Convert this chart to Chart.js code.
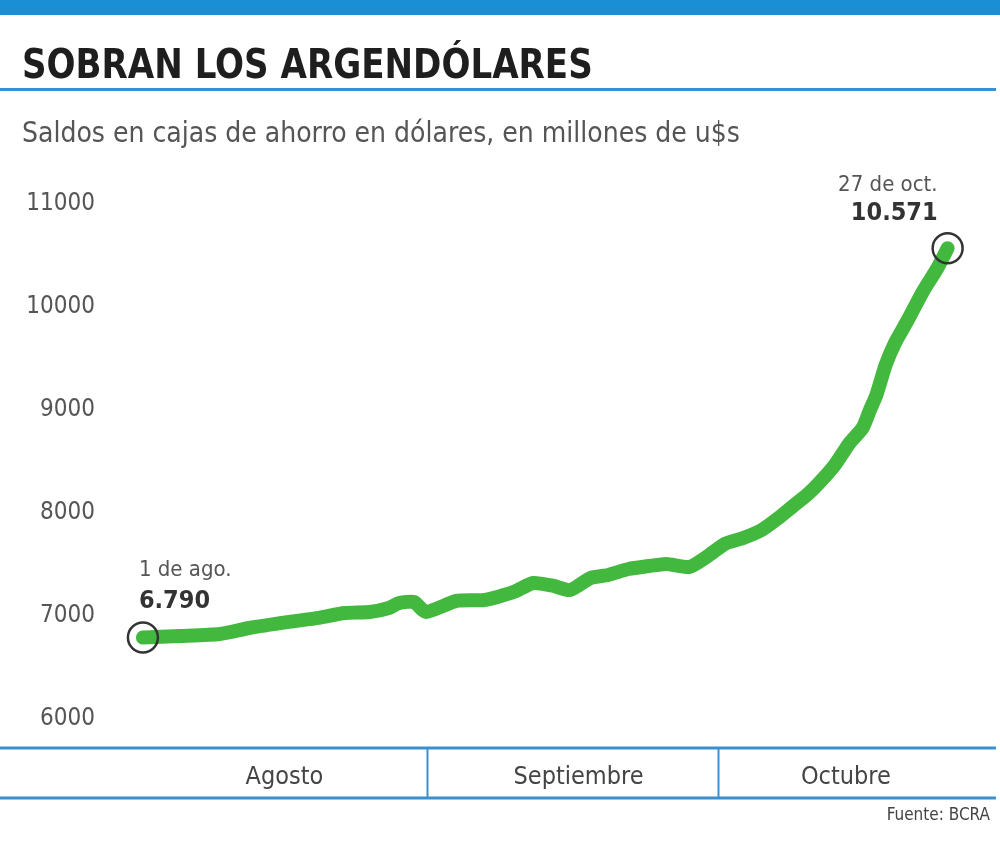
<!DOCTYPE html>
<html>
<head>
<meta charset="utf-8">
<script src="https://cdn.jsdelivr.net/npm/chart.js@4.4.1/dist/chart.umd.min.js"></script>
<style>
  html, body { margin: 0; padding: 0; background: #fff; }
  #wrap { position: relative; width: 1000px; height: 851px; overflow: hidden; background: #fff; }
  #topbar { position: absolute; left: 0; top: 0; width: 1000px; height: 15px; background: #1b8fd5; }
  #title { position: absolute; left: 22px; top: 44px; font: bold 41px/41px "DejaVu Sans Condensed", "DejaVu Sans", sans-serif; color: #1e1e1e; white-space: nowrap; transform: scaleX(0.925); transform-origin: 0 0; }
  #rule { position: absolute; left: 0; top: 88px; width: 996px; height: 3px; background: #3a90cf; }
  #subtitle { position: absolute; left: 22px; top: 119px; font: 28px/28px "DejaVu Sans Condensed", "DejaVu Sans", sans-serif; color: #555; white-space: nowrap; }
  #source { position: absolute; right: 10px; top: 806px; font: 17px/17px "DejaVu Sans Condensed", "DejaVu Sans", sans-serif; color: #444; white-space: nowrap; }
  canvas { position: absolute; left: 0; top: 0; }
</style>
</head>
<body>
<div id="wrap">
  <canvas id="c" width="1000" height="851"></canvas>
  <div id="topbar"></div>
  <div id="title">SOBRAN LOS ARGENDÓLARES</div>
  <div id="rule"></div>
  <div id="subtitle">Saldos en cajas de ahorro en dólares, en millones de u$s</div>
  <div id="source">Fuente: BCRA</div>
</div>
<script>
// Day offsets from 1 August (0 = 1 de ago., 87 = 27 de oct.)
const days = [0, 4, 8.3, 11.5, 15.8, 19, 21.8, 24.5, 26.6, 27.7, 29.3, 30.6, 33.9, 36.9, 40.1, 42.2, 44.4, 46.2, 48.4, 50.3, 52.5, 54.7, 56.6, 59.1, 61.1, 62.9, 64.9, 66.9, 68.7, 70.3, 71.9, 73.1, 74.8, 76.4, 77.8, 78.6, 79.3, 80.3, 81.3, 82.7, 84.3, 85.9, 87];
// Saldos en millones de u$s
const saldos = [6790, 6805, 6825, 6883, 6942, 6981, 7029, 7039, 7078, 7126, 7136, 7039, 7146, 7155, 7233, 7320, 7291, 7252, 7369, 7398, 7456, 7485, 7505, 7476, 7583, 7699, 7757, 7835, 7951, 8068, 8184, 8291, 8466, 8680, 8825, 9000, 9146, 9437, 9650, 9874, 10146, 10379, 10571];
const yTicks = [6000, 7000, 8000, 9000, 10000, 11000];
const monthLabels = ["Agosto", "Septiembre", "Octubre"];
const monthLabelDays = [15.3, 47.1, 76];
const monthSeparatorDays = [30.7, 62.2];
const startNote = ["1 de ago.", "6.790"];
const endNote = ["27 de oct.", "10.571"];

const BLUE = '#3a90cf';
const GREEN = '#43b83f';

const bandPlugin = {
  id: 'band',
  afterDraw(chart) {
    const ctx = chart.ctx;
    const xs = chart.scales.x, ys = chart.scales.y;
    ctx.save();
    ctx.strokeStyle = BLUE;
    ctx.lineWidth = 3;
    [xs.top, xs.bottom].forEach(y => {
      ctx.beginPath(); ctx.moveTo(0, y); ctx.lineTo(996, y); ctx.stroke();
    });
    ctx.lineWidth = 2;
    monthSeparatorDays.forEach(d => {
      const x = Math.round(xs.getPixelForValue(d)) + 0.5;
      ctx.beginPath(); ctx.moveTo(x, xs.top); ctx.lineTo(x, xs.bottom); ctx.stroke();
    });
    const x0 = xs.getPixelForValue(days[0]);
    const y0 = ys.getPixelForValue(saldos[0]);
    const xn = xs.getPixelForValue(days[days.length - 1]);
    const yn = ys.getPixelForValue(saldos[saldos.length - 1]);
    ctx.textBaseline = 'middle';
    ctx.textAlign = 'left';
    ctx.fillStyle = '#555';
    ctx.font = '22px "DejaVu Sans Condensed", "DejaVu Sans", sans-serif';
    ctx.fillText(startNote[0], x0 - 4, y0 - 67);
    ctx.fillStyle = '#333';
    ctx.font = 'bold 25px "DejaVu Sans Condensed", "DejaVu Sans", sans-serif';
    ctx.fillText(startNote[1], x0 - 4, y0 - 36);
    ctx.textAlign = 'right';
    ctx.fillStyle = '#555';
    ctx.font = '22px "DejaVu Sans Condensed", "DejaVu Sans", sans-serif';
    ctx.fillText(endNote[0], xn - 10, yn - 63);
    ctx.fillStyle = '#333';
    ctx.font = 'bold 25px "DejaVu Sans Condensed", "DejaVu Sans", sans-serif';
    ctx.fillText(endNote[1], xn - 10, yn - 35);
    ctx.restore();
  }
};

new Chart(document.getElementById('c'), {
  type: 'line',
  data: {
    datasets: [{
      data: days.map((d, i) => ({ x: d, y: saldos[i] })),
      borderColor: GREEN,
      borderWidth: 14,
      borderCapStyle: 'round',
      borderJoinStyle: 'round',
      tension: 0.2,
      fill: false,
      clip: false,
      pointRadius: ctx => (ctx.dataIndex === 0 || ctx.dataIndex === days.length - 1) ? 15 : 0,
      pointBorderColor: '#333',
      pointBackgroundColor: 'rgba(0,0,0,0)',
      pointBorderWidth: 2.5,
      pointHoverRadius: 0
    }]
  },
  options: {
    responsive: false,
    animation: false,
    devicePixelRatio: 1,
    events: [],
    layout: { padding: { left: 0, top: 170, right: 15, bottom: 53 } },
    plugins: { legend: { display: false }, tooltip: { enabled: false }, title: { display: false } },
    scales: {
      x: {
        type: 'linear',
        min: -4.64,
        max: 90.77,
        border: { display: false },
        grid: { display: false, drawTicks: false },
        afterBuildTicks: s => { s.ticks = monthLabelDays.map(v => ({ value: v })); },
        afterFit: s => { s.height = 50; },
        ticks: {
          autoSkip: false,
          maxRotation: 0,
          padding: 14,
          color: '#444',
          font: { family: '"DejaVu Sans Condensed", "DejaVu Sans", sans-serif', size: 25 },
          callback: (v, i) => monthLabels[i]
        }
      },
      y: {
        type: 'linear',
        min: 5718,
        max: 11330,
        border: { display: false },
        grid: { display: false, drawTicks: false },
        afterBuildTicks: s => { s.ticks = yTicks.map(v => ({ value: v })); },
        afterFit: s => { s.width = 100; },
        ticks: {
          padding: 5,
          color: '#555',
          font: { family: '"DejaVu Sans Condensed", "DejaVu Sans", sans-serif', size: 24 },
          callback: v => String(v)
        }
      }
    }
  },
  plugins: [bandPlugin]
});
</script>
</body>
</html>
